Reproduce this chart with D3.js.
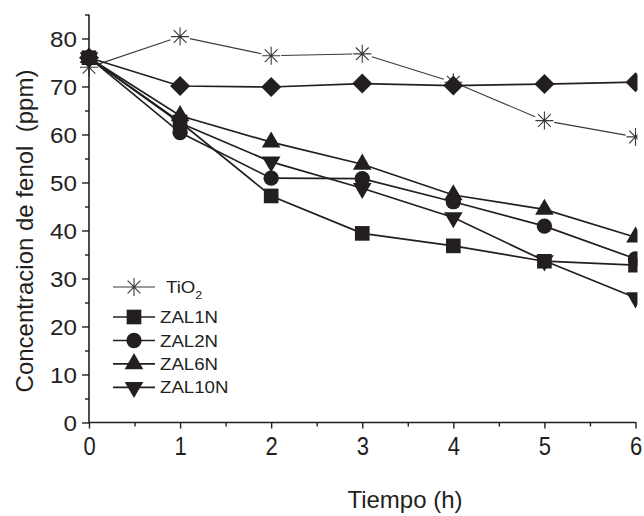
<!DOCTYPE html>
<html>
<head>
<meta charset="utf-8">
<script src="https://cdn.jsdelivr.net/npm/d3@7"></script>
<style>
  html, body { margin: 0; padding: 0; background: #fff; }
  svg { display: block; }
  text { font-family: "Liberation Sans", Arial, Helvetica, sans-serif; fill: #231f20; }
</style>
</head>
<body>
<svg id="chart" width="644" height="516"></svg>
<script>
// Tiempo (h)
const hours = [0, 1, 2, 3, 4, 5, 6];

// Concentración de fenol (ppm) por catalizador
const tio2Values   = [74.0, 80.4, 76.4, 76.8, 70.9, 62.9, 59.5];
const diamondValues = [76.0, 70.1, 69.9, 70.6, 70.2, 70.5, 70.9];
const zal1nValues  = [76.0, 62.6, 47.2, 39.4, 36.8, 33.6, 32.8];
const zal2nValues  = [76.0, 60.4, 50.9, 50.8, 46.0, 40.9, 34.1];
const zal6nValues  = [76.0, 63.9, 58.4, 53.8, 47.4, 44.4, 38.6];
const zal10nValues = [76.0, 62.4, 54.3, 48.8, 42.7, 33.7, 26.0];

// Ejes
const xTicks = [0, 1, 2, 3, 4, 5, 6];
const xMinorTicks = [0.5, 1.5, 2.5, 3.5, 4.5, 5.5];
const yTicks = [0, 10, 20, 30, 40, 50, 60, 70, 80];
const yMinorTicks = [5, 15, 25, 35, 45, 55, 65, 75, 85];

const legendNames = ["TiO", "ZAL1N", "ZAL2N", "ZAL6N", "ZAL10N"];

const ink = "#231f20";
const svg = d3.select("#chart");

const x = d3.scaleLinear().domain([0, 6]).range([89, 635.5]);
const y = d3.scaleLinear().domain([0, 85]).range([422.5, 14.5]);

// area clip: marks stop at the right edge of the frame
svg.append("defs").append("clipPath").attr("id", "plotclip")
  .append("rect").attr("x", 0).attr("y", 0).attr("width", 637.5).attr("height", 516);

const plot = svg.append("g").attr("clip-path", "url(#plotclip)");

// Symbol generators
const sym = {
  square:  d3.symbol().type(d3.symbolSquare).size(215)(),
  circle:  d3.symbol().type(d3.symbolCircle).size(185)(),
  triUp:   d3.symbol().type(d3.symbolTriangle).size(150)(),
  diamond: d3.symbol().type(d3.symbolSquare).size(200)()
};
function starPath(r) {
  const p = d3.path();
  for (let k = 0; k < 4; k++) {
    const a = k * Math.PI / 4;
    p.moveTo(r * Math.cos(a), r * Math.sin(a));
    p.lineTo(-r * Math.cos(a), -r * Math.sin(a));
  }
  return p.toString();
}

function drawMarker(g, kind, cx, cy) {
  if (kind === "star") {
    g.append("path").attr("d", starPath(9))
      .attr("transform", `translate(${cx},${cy})`)
      .attr("fill", "none").attr("stroke", "#3a3a3a").attr("stroke-width", 1.1);
    return;
  }
  let d = sym.square, rot = 0;
  if (kind === "circle") d = sym.circle;
  if (kind === "triUp") d = sym.triUp;
  if (kind === "triDown") { d = sym.triUp; rot = 180; }
  if (kind === "diamond") { d = sym.diamond; rot = 45; }
  g.append("path").attr("d", d)
    .attr("transform", `translate(${cx},${cy}) rotate(${rot})`)
    .attr("fill", ink).attr("stroke", "none");
}

// TiO2: thin grey line with gaps around the open star markers
const tioG = plot.append("g");
const gap = 10;
for (let i = 0; i < hours.length - 1; i++) {
  const x0 = x(hours[i]), y0 = y(tio2Values[i]);
  const x1 = x(hours[i + 1]), y1 = y(tio2Values[i + 1]);
  const len = Math.hypot(x1 - x0, y1 - y0);
  const ux = (x1 - x0) / len, uy = (y1 - y0) / len;
  tioG.append("line")
    .attr("x1", x0 + ux * gap).attr("y1", y0 + uy * gap)
    .attr("x2", x1 - ux * gap).attr("y2", y1 - uy * gap)
    .attr("stroke", "#3a3a3a").attr("stroke-width", 1.1);
}
hours.forEach((h, i) => drawMarker(tioG, "star", x(h), y(tio2Values[i])));

// Filled-marker series
const lineGen = d3.line().x((d, i) => x(hours[i])).y(d => y(d));
const filledSeries = [
  { values: diamondValues, kind: "diamond" },
  { values: zal10nValues, kind: "triDown" },
  { values: zal6nValues, kind: "triUp" },
  { values: zal2nValues, kind: "circle" },
  { values: zal1nValues, kind: "square" }
];
filledSeries.forEach(s => {
  const g = plot.append("g");
  g.append("path").datum(s.values).attr("d", lineGen)
    .attr("fill", "none").attr("stroke", ink).attr("stroke-width", 1.7);
});
filledSeries.forEach(s => {
  const g = plot.append("g");
  s.values.forEach((v, i) => drawMarker(g, s.kind, x(hours[i]), y(v)));
});

// Axes
const axisG = svg.append("g");
axisG.append("line").attr("x1", x(0)).attr("x2", x(0)).attr("y1", y(85)).attr("y2", y(0))
  .attr("stroke", ink).attr("stroke-width", 1.6);
axisG.append("line").attr("x1", x(0) - 0.8).attr("x2", x(6) + 0.8).attr("y1", y(0)).attr("y2", y(0))
  .attr("stroke", ink).attr("stroke-width", 1.6);

const yAxis = d3.axisLeft(y).tickValues(yTicks).tickSize(7).tickPadding(5).tickFormat(d3.format("d"));
const yAx = svg.append("g").attr("transform", `translate(${x(0)},0)`).call(yAxis);
yAx.select(".domain").remove();
yAx.selectAll(".tick line").attr("stroke", ink).attr("stroke-width", 1.4);
yAx.selectAll(".tick text")
  .attr("font-size", 22).attr("fill", ink).attr("dy", "0.36em").attr("x", 0)
  .attr("text-anchor", "end")
  .attr("transform", "translate(-12,0) scale(1.1,1)");
svg.append("g").attr("transform", `translate(${x(0)},0)`)
  .call(d3.axisLeft(y).tickValues(yMinorTicks).tickSize(4).tickFormat(""))
  .call(g => g.select(".domain").remove())
  .selectAll(".tick line").attr("stroke", ink).attr("stroke-width", 1.4);

const xAxis = d3.axisBottom(x).tickValues(xTicks).tickSize(6).tickPadding(6).tickFormat(d3.format("d"));
const xAx = svg.append("g").attr("transform", `translate(0,${y(0)})`).call(xAxis);
xAx.select(".domain").remove();
xAx.selectAll(".tick line").attr("stroke", ink).attr("stroke-width", 1.4);
xAx.selectAll(".tick text")
  .attr("font-size", 22).attr("fill", ink).attr("y", 0).attr("dy", 0)
  .attr("transform", "translate(0,32) scale(1,1.13)");
svg.append("g").attr("transform", `translate(0,${y(0)})`)
  .call(d3.axisBottom(x).tickValues(xMinorTicks).tickSize(4).tickFormat(""))
  .call(g => g.select(".domain").remove())
  .selectAll(".tick line").attr("stroke", ink).attr("stroke-width", 1.4);

// Axis titles
svg.append("text")
  .attr("x", 405).attr("y", 508)
  .attr("text-anchor", "middle").attr("font-size", 24)
  .text("Tiempo (h)");
svg.append("text")
  .attr("transform", "translate(33,231) rotate(-90)")
  .attr("text-anchor", "middle").attr("font-size", 24)
  .attr("xml:space", "preserve")
  .style("white-space", "pre")
  .text("Concentracion de fenol  (ppm)");

// Legend
const legendKinds = ["star", "square", "circle", "triUp", "triDown"];
const rowY = [287, 317, 340.5, 363.8, 387.3];
const legend = svg.append("g");
legendNames.forEach((name, i) => {
  const cy = rowY[i];
  const isTio = i === 0;
  legend.append("line").attr("x1", 113).attr("x2", 155).attr("y1", cy).attr("y2", cy)
    .attr("stroke", isTio ? "#3a3a3a" : ink).attr("stroke-width", isTio ? 1.1 : 1.7);
  if (isTio) {
    // white gap behind the open star
    legend.append("line").attr("x1", 125).attr("x2", 143).attr("y1", cy).attr("y2", cy)
      .attr("stroke", "#fff").attr("stroke-width", 3);
  }
  drawMarker(legend, legendKinds[i], 134, cy);
  const t = legend.append("text")
    .attr("font-size", 16.5)
    .attr("transform", `translate(${isTio ? 166 : 160},${cy + 6}) scale(1.13,1)`);
  t.append("tspan").text(name);
  if (isTio) {
    t.append("tspan").attr("font-size", 11).attr("dy", 6).text("2");
  }
});
</script>
</body>
</html>
